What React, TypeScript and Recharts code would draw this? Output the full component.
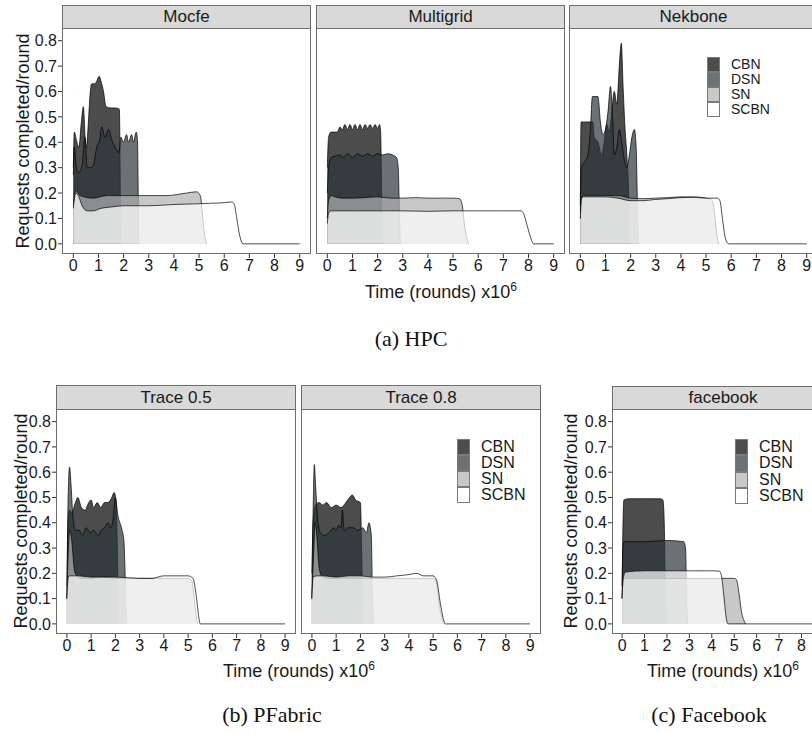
import React from 'react';
import { AreaChart, Area, XAxis, YAxis } from 'recharts';

type Pt = [number, number];

const seriesNames = ['CBN', 'DSN', 'SN', 'SCBN'];
const xTicks = [0, 1, 2, 3, 4, 5, 6, 7, 8, 9];
const xTicksFacebook = [0, 1, 2, 3, 4, 5, 6, 7, 8];
const yTicks = [0, 0.1, 0.2, 0.3, 0.4, 0.5, 0.6, 0.7, 0.8];

// x in 10^6 rounds, y in requests completed per round
const mocfeCBN: Pt[] = [[0, 0.3], [0.04, 0.44], [0.12, 0.41], [0.22, 0.38], [0.32, 0.48], [0.4, 0.54], [0.47, 0.42], [0.52, 0.38], [0.6, 0.48], [0.66, 0.58], [0.73, 0.63], [0.85, 0.63], [0.93, 0.64], [1.03, 0.66], [1.1, 0.64], [1.2, 0.6], [1.3, 0.54], [1.5, 0.535], [1.7, 0.535], [1.83, 0.53], [1.86, 0.3], [1.88, 0]];
const mocfeDSN: Pt[] = [[0, 0.27], [0.04, 0.38], [0.12, 0.3], [0.2, 0.28], [0.35, 0.31], [0.46, 0.42], [0.55, 0.3], [0.7, 0.3], [0.8, 0.31], [0.93, 0.38], [1.05, 0.41], [1.13, 0.46], [1.26, 0.42], [1.4, 0.45], [1.53, 0.41], [1.66, 0.38], [1.82, 0.36], [1.89, 0.42], [1.99, 0.4], [2.12, 0.43], [2.19, 0.4], [2.32, 0.43], [2.39, 0.4], [2.5, 0.44], [2.55, 0.41], [2.58, 0.2], [2.6, 0]];
const mocfeSN: Pt[] = [[0, 0.15], [0.1, 0.21], [0.27, 0.19], [0.8, 0.18], [1.33, 0.19], [2, 0.19], [2.66, 0.19], [3.7, 0.19], [4.5, 0.2], [4.9, 0.205], [5.05, 0.19], [5.12, 0.13], [5.2, 0.05], [5.3, 0]];
const mocfeSCBN: Pt[] = [[0, 0.14], [0.1, 0.2], [0.2, 0.19], [0.35, 0.15], [0.55, 0.13], [0.8, 0.13], [1.1, 0.14], [1.5, 0.145], [2, 0.15], [3, 0.15], [4, 0.155], [5, 0.158], [5.5, 0.16], [6, 0.162], [6.3, 0.165], [6.4, 0.155], [6.5, 0.1], [6.6, 0.04], [6.7, 0.005], [6.75, 0], [9, 0]];

const multigridCBN: Pt[] = [[0, 0.3], [0.05, 0.42], [0.15, 0.44], [0.4, 0.44], [0.5, 0.46], [0.6, 0.45], [0.7, 0.47], [0.8, 0.45], [0.9, 0.47], [1.0, 0.45], [1.1, 0.47], [1.2, 0.45], [1.3, 0.47], [1.4, 0.45], [1.5, 0.47], [1.6, 0.455], [1.7, 0.47], [1.8, 0.455], [1.9, 0.47], [2.0, 0.455], [2.08, 0.47], [2.12, 0.44], [2.16, 0.2], [2.2, 0]];
const multigridDSN: Pt[] = [[0, 0.2], [0.05, 0.3], [0.15, 0.34], [0.3, 0.345], [0.5, 0.35], [0.65, 0.34], [0.8, 0.355], [1.0, 0.34], [1.2, 0.355], [1.4, 0.345], [1.6, 0.355], [1.8, 0.345], [2.0, 0.355], [2.2, 0.35], [2.4, 0.355], [2.6, 0.35], [2.75, 0.34], [2.82, 0.3], [2.86, 0.15], [2.9, 0]];
const multigridSN: Pt[] = [[0, 0.1], [0.05, 0.17], [0.15, 0.19], [0.3, 0.185], [0.6, 0.18], [1, 0.18], [1.5, 0.182], [2, 0.185], [2.5, 0.18], [3, 0.18], [3.5, 0.182], [4, 0.18], [4.5, 0.18], [5, 0.18], [5.25, 0.178], [5.35, 0.16], [5.45, 0.08], [5.55, 0.02], [5.62, 0]];
const multigridSCBN: Pt[] = [[0, 0.08], [0.05, 0.12], [0.15, 0.13], [1, 0.13], [2, 0.13], [3, 0.13], [4, 0.128], [5, 0.13], [6, 0.13], [7, 0.13], [7.7, 0.13], [7.8, 0.12], [7.95, 0.07], [8.1, 0.02], [8.2, 0], [9, 0]];

const nekboneCBN: Pt[] = [[0, 0.15], [0.03, 0.48], [0.5, 0.48], [0.55, 0.42], [0.7, 0.4], [0.85, 0.35], [0.95, 0.4], [1.05, 0.47], [1.15, 0.44], [1.25, 0.52], [1.35, 0.6], [1.45, 0.55], [1.55, 0.7], [1.63, 0.79], [1.7, 0.62], [1.78, 0.45], [1.85, 0.35], [1.92, 0.2], [1.95, 0]];
const nekboneDSN: Pt[] = [[0, 0.12], [0.04, 0.3], [0.15, 0.32], [0.3, 0.35], [0.4, 0.45], [0.48, 0.58], [0.7, 0.58], [0.8, 0.48], [0.9, 0.43], [1.0, 0.45], [1.1, 0.52], [1.2, 0.62], [1.28, 0.5], [1.35, 0.35], [1.45, 0.38], [1.55, 0.45], [1.65, 0.4], [1.75, 0.33], [1.85, 0.3], [1.95, 0.35], [2.05, 0.42], [2.15, 0.45], [2.22, 0.38], [2.27, 0.15], [2.3, 0]];
const nekboneSN: Pt[] = [[0, 0.1], [0.05, 0.17], [0.12, 0.19], [0.5, 0.19], [1, 0.19], [1.5, 0.19], [2, 0.18], [2.5, 0.178], [3, 0.18], [3.5, 0.182], [4, 0.185], [4.5, 0.185], [5, 0.18], [5.2, 0.175], [5.3, 0.15], [5.38, 0.08], [5.45, 0.02], [5.5, 0]];
const nekboneSCBN: Pt[] = [[0, 0.1], [0.05, 0.18], [0.12, 0.185], [0.5, 0.185], [1, 0.185], [1.5, 0.18], [2, 0.17], [2.5, 0.17], [3, 0.175], [3.5, 0.178], [4, 0.182], [4.5, 0.183], [5, 0.18], [5.45, 0.18], [5.55, 0.17], [5.65, 0.1], [5.75, 0.03], [5.85, 0.003], [5.9, 0], [9, 0]];

const trace05CBN: Pt[] = [[0, 0.1], [0.05, 0.4], [0.1, 0.45], [0.2, 0.44], [0.35, 0.48], [0.45, 0.5], [0.6, 0.46], [0.75, 0.45], [0.9, 0.48], [1.0, 0.49], [1.1, 0.46], [1.25, 0.48], [1.4, 0.46], [1.55, 0.48], [1.7, 0.48], [1.85, 0.5], [1.95, 0.52], [2.03, 0.48], [2.08, 0.3], [2.12, 0]];
const trace05DSN: Pt[] = [[0, 0.15], [0.05, 0.5], [0.11, 0.62], [0.17, 0.55], [0.25, 0.42], [0.35, 0.37], [0.5, 0.37], [0.65, 0.35], [0.8, 0.38], [0.95, 0.36], [1.1, 0.37], [1.2, 0.36], [1.3, 0.35], [1.4, 0.37], [1.55, 0.38], [1.7, 0.4], [1.8, 0.38], [1.9, 0.41], [2.0, 0.5], [2.1, 0.43], [2.25, 0.38], [2.35, 0.33], [2.4, 0.2], [2.45, 0]];
const trace05SN: Pt[] = [[0, 0.1], [0.06, 0.3], [0.12, 0.37], [0.2, 0.33], [0.3, 0.22], [0.4, 0.19], [0.6, 0.18], [1, 0.18], [1.5, 0.185], [2, 0.18], [3, 0.18], [4, 0.18], [5, 0.18], [5.15, 0.17], [5.25, 0.1], [5.35, 0.02], [5.4, 0]];
const trace05SCBN: Pt[] = [[0, 0.1], [0.05, 0.18], [0.1, 0.19], [0.5, 0.19], [1, 0.185], [1.5, 0.185], [2, 0.185], [3, 0.18], [3.5, 0.18], [4, 0.19], [4.5, 0.19], [5, 0.19], [5.2, 0.18], [5.35, 0.1], [5.45, 0.02], [5.5, 0], [9, 0]];

const trace08CBN: Pt[] = [[0, 0.1], [0.05, 0.4], [0.15, 0.47], [0.3, 0.48], [0.45, 0.47], [0.6, 0.48], [0.8, 0.46], [1.0, 0.47], [1.2, 0.46], [1.4, 0.48], [1.55, 0.5], [1.67, 0.51], [1.8, 0.49], [2.0, 0.48], [2.05, 0.3], [2.1, 0]];
const trace08DSN: Pt[] = [[0, 0.2], [0.05, 0.45], [0.1, 0.63], [0.15, 0.55], [0.25, 0.4], [0.35, 0.36], [0.5, 0.35], [0.7, 0.36], [0.9, 0.38], [1.0, 0.37], [1.1, 0.39], [1.2, 0.38], [1.26, 0.45], [1.33, 0.37], [1.5, 0.38], [1.7, 0.38], [1.9, 0.37], [2.1, 0.38], [2.25, 0.36], [2.35, 0.4], [2.45, 0.35], [2.5, 0.1], [2.55, 0]];
const trace08SN: Pt[] = [[0, 0.1], [0.08, 0.3], [0.13, 0.4], [0.2, 0.35], [0.3, 0.22], [0.4, 0.19], [0.6, 0.18], [1, 0.18], [1.5, 0.18], [2, 0.18], [2.5, 0.18], [3, 0.18], [4, 0.18], [5, 0.18], [5.1, 0.175], [5.2, 0.12], [5.3, 0.05], [5.4, 0.01], [5.45, 0]];
const trace08SCBN: Pt[] = [[0, 0.1], [0.05, 0.185], [0.2, 0.19], [0.5, 0.19], [1, 0.185], [1.5, 0.19], [2, 0.19], [2.5, 0.185], [3, 0.185], [3.5, 0.19], [4, 0.195], [4.3, 0.2], [4.6, 0.19], [5, 0.19], [5.15, 0.17], [5.3, 0.08], [5.45, 0.01], [5.5, 0], [9, 0]];

const facebookCBN: Pt[] = [[0, 0.1], [0.04, 0.4], [0.08, 0.49], [0.3, 0.495], [1, 0.495], [1.7, 0.495], [1.82, 0.49], [1.88, 0.4], [1.93, 0.1], [1.95, 0]];
const facebookDSN: Pt[] = [[0, 0.15], [0.04, 0.3], [0.1, 0.325], [1, 0.325], [2, 0.33], [2.75, 0.325], [2.83, 0.3], [2.88, 0.1], [2.92, 0]];
const facebookSN: Pt[] = [[0, 0.1], [0.05, 0.17], [0.12, 0.18], [1, 0.18], [2, 0.18], [3, 0.18], [4, 0.18], [5, 0.18], [5.1, 0.175], [5.2, 0.13], [5.32, 0.05], [5.45, 0.01], [5.5, 0]];
const facebookSCBN: Pt[] = [[0, 0.1], [0.05, 0.18], [0.15, 0.205], [1, 0.21], [2, 0.21], [3, 0.21], [4, 0.21], [4.35, 0.208], [4.45, 0.18], [4.55, 0.1], [4.65, 0.02], [4.72, 0], [9, 0]];

const FILL: Record<string, string> = { CBN: '#000000', DSN: '#2c363a', SN: '#b0b0b0', SCBN: '#ffffff' };
const KEY: Record<string, string> = { CBN: '#4d4d4d', DSN: '#6b7275', SN: '#c8c8c8', SCBN: '#ffffff' };
const SANS = "'Liberation Sans', Arial, sans-serif";
const INK = '#1a1a1a';
const EDGE = '#6e6e6e';

const toRows = (pts: Pt[]) => pts.map(([x, y]) => ({ x, y }));

interface PanelProps {
    left: number;
    right: number;
    stripTop: number;
    top: number;
    bottom: number;
    title: string;
    series: Pt[][];
    ticks?: number[];
    yAxis?: boolean;
}

const Panel = ({ left, right, stripTop, top, bottom, title, series, ticks = xTicks, yAxis }: PanelProps) => {
    const yw = yAxis ? 40 : 0;
    const w = right - left;
    const h = bottom - top;
    return (
        <>
            <div style={{ position: 'absolute', left, top: stripTop, width: w, height: top - stripTop + 1, background: '#d9d9d9', border: `1px solid ${EDGE}`, boxSizing: 'border-box', textAlign: 'center', fontSize: 17, lineHeight: `${top - stripTop - 1}px`, color: INK }}>{title}</div>
            <div style={{ position: 'absolute', left: left - yw, top }}>
                <AreaChart width={w + yw} height={h + 30} margin={{ top: 0, right: 0, bottom: 0, left: 0 }}>
                    <XAxis type='number' dataKey='x' domain={[-0.45, 9.45]} ticks={ticks} interval={0} allowDataOverflow
                        axisLine={false} tickLine={{ stroke: '#333' }} tickSize={4} tickMargin={2} height={30}
                        tick={{ fontSize: 16, fill: INK }} />
                    <YAxis type='number' domain={[-0.04, 0.85]} ticks={yTicks} interval={0} allowDataOverflow hide={!yAxis}
                        width={yw} axisLine={false} tickLine={{ stroke: '#333' }} tickSize={4} tickMargin={1}
                        tick={{ fontSize: 16, fill: INK }} tickFormatter={(v: number) => v.toFixed(1)} />
                    {series.map((pts, i) => (
                        <Area key={seriesNames[i]} name={seriesNames[i]} data={toRows(pts)} dataKey='y' type='monotone'
                            baseValue={0} fill={FILL[seriesNames[i]]} fillOpacity={0.7} stroke='#000' strokeWidth={0.7}
                            dot={false} activeDot={false} isAnimationActive={false} />
                    ))}
                </AreaChart>
            </div>
            <div style={{ position: 'absolute', left, top, width: w, height: h, border: `1px solid ${EDGE}`, boxSizing: 'border-box', pointerEvents: 'none' }} />
        </>
    );
};

const KeyLegend = ({ x, y, keyH, fontSize, gap }: { x: number; y: number; keyH: number; fontSize: number; gap: number }) => (
    <div style={{ position: 'absolute', left: x, top: y }}>
        {seriesNames.map((s) => (
            <div key={s} style={{ display: 'flex', alignItems: 'center', height: keyH }}>
                <div style={{ width: 13, height: keyH, background: KEY[s], border: '1px solid #7a7a7a', boxSizing: 'border-box' }} />
                <span style={{ marginLeft: gap, fontSize, lineHeight: `${keyH}px`, color: INK }}>{s}</span>
            </div>
        ))}
    </div>
);

const YTitle = ({ cx, cy }: { cx: number; cy: number }) => (
    <div style={{ position: 'absolute', left: cx, top: cy, transform: 'translate(-50%, -50%) rotate(-90deg)', whiteSpace: 'nowrap', fontSize: 18, color: INK }}>
        Requests completed/round
    </div>
);

const XTitle = ({ cx, cy }: { cx: number; cy: number }) => (
    <div style={{ position: 'absolute', left: cx, top: cy, transform: 'translate(-50%, -50%)', whiteSpace: 'nowrap', fontSize: 18, color: INK }}>
        Time (rounds) x10<sup style={{ fontSize: 12 }}>6</sup>
    </div>
);

const Caption = ({ cx, cy, text }: { cx: number; cy: number; text: string }) => (
    <div style={{ position: 'absolute', left: cx, top: cy, transform: 'translate(-50%, -50%)', whiteSpace: 'nowrap', fontSize: 22, color: '#111', fontFamily: "'Liberation Serif', 'DejaVu Serif', serif" }}>
        {text}
    </div>
);

export default function App() {
    return (
        <div style={{ position: 'fixed', left: 0, top: 0, width: 812, height: 733, overflow: 'hidden', background: '#fff', fontFamily: SANS }}>
            <Panel left={62} right={311} stripTop={5} top={28} bottom={254} title='Mocfe' yAxis
                series={[mocfeCBN, mocfeDSN, mocfeSN, mocfeSCBN]} />
            <Panel left={316} right={565} stripTop={5} top={28} bottom={254} title='Multigrid'
                series={[multigridCBN, multigridDSN, multigridSN, multigridSCBN]} />
            <Panel left={569} right={818} stripTop={5} top={28} bottom={254} title='Nekbone'
                series={[nekboneCBN, nekboneDSN, nekboneSN, nekboneSCBN]} />
            <KeyLegend x={707} y={57} keyH={15} fontSize={14} gap={11} />
            <YTitle cx={23} cy={141} />
            <XTitle cx={441} cy={291} />
            <Caption cx={411} cy={339} text='(a) HPC' />

            <Panel left={56} right={296} stripTop={385} top={409} bottom={634} title='Trace 0.5' yAxis
                series={[trace05CBN, trace05DSN, trace05SN, trace05SCBN]} />
            <Panel left={301} right={541} stripTop={385} top={409} bottom={634} title='Trace 0.8'
                series={[trace08CBN, trace08DSN, trace08SN, trace08SCBN]} />
            <KeyLegend x={457} y={439} keyH={16} fontSize={16} gap={11} />
            <YTitle cx={21} cy={521} />
            <XTitle cx={299} cy={670} />
            <Caption cx={272} cy={715} text='(b) PFabric' />

            <Panel left={612} right={834} stripTop={386} top={409} bottom={634} title='facebook' yAxis ticks={xTicksFacebook}
                series={[facebookCBN, facebookDSN, facebookSN, facebookSCBN]} />
            <KeyLegend x={735} y={439} keyH={16.25} fontSize={16} gap={11} />
            <YTitle cx={571} cy={521} />
            <XTitle cx={723} cy={670} />
            <Caption cx={709} cy={715} text='(c) Facebook' />
        </div>
    );
}
